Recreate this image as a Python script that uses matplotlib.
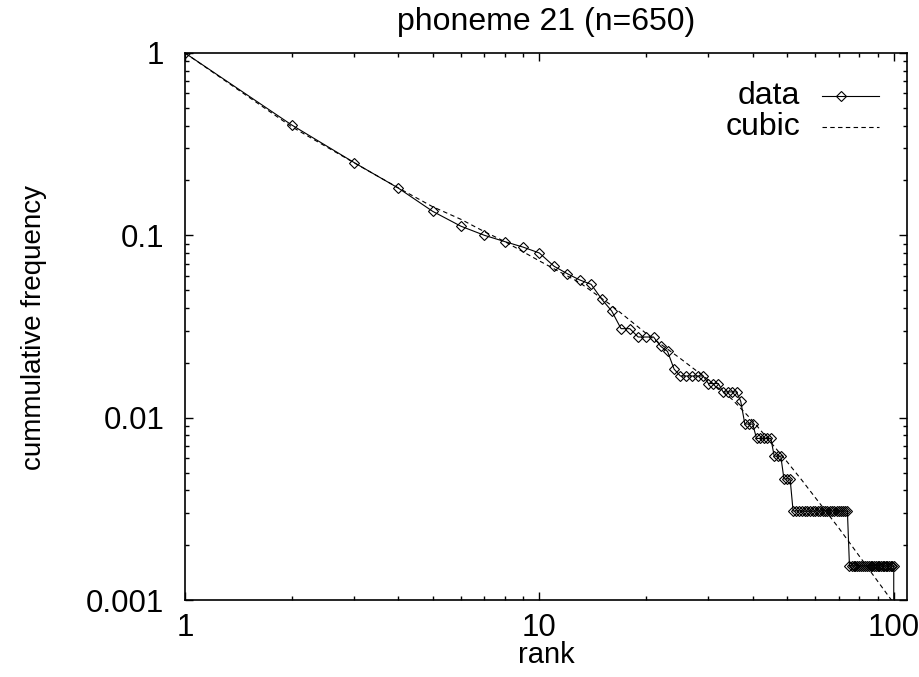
import numpy as np
import matplotlib

matplotlib.use("Agg")
import matplotlib.pyplot as plt
from matplotlib.ticker import NullFormatter, LogLocator

n_total = 650

# counts per rank (value = count / n)
rank = np.arange(1, 102)
counts = [
    650, 262, 163, 118, 88, 73, 65, 60, 56, 52,
    44, 40, 37, 35, 29, 25, 20, 20, 18, 18,
    18, 16, 15, 12, 11, 11, 11, 11, 11, 10,
    10, 10, 9, 9, 9, 9, 8, 6, 6, 6,
    5, 5, 5, 5, 5, 4, 4, 4, 3, 3,
    3, 2, 2, 2, 2, 2, 2, 2, 2, 2,
    2, 2, 2, 2, 2, 2, 2, 2, 2, 2,
    2, 2, 2, 2, 1, 1, 1, 1, 1, 1,
    1, 1, 1, 1, 1, 1, 1, 1, 1, 1,
    1, 1, 1, 1, 1, 1, 1, 1, 1, 1,
    0,
]
freq = np.array(counts) / n_total

# dashed "cubic" curve
cubic_rank = [1, 2, 3, 4, 5, 6, 7, 8, 10, 13, 16, 20, 25, 30, 35, 40, 50, 55, 70, 100]
cubic_freq = [1.0, 0.394, 0.250, 0.182, 0.1435, 0.1225, 0.1047, 0.0923, 0.0724, 0.0550,
              0.0412, 0.0290, 0.0211, 0.0161, 0.0126, 0.0096, 0.00573, 0.00455, 0.00248, 0.00096]

x_ticks = [1, 10, 100]
x_tick_labels = ["1", "10", "100"]
y_ticks = [0.001, 0.01, 0.1, 1]
y_tick_labels = ["0.001", "0.01", "0.1", "1"]

plt.rcParams["font.family"] = ["Liberation Sans", "DejaVu Sans"]

fig = plt.figure(figsize=(9.2, 6.77), dpi=100)
ax = fig.add_axes([185 / 920, 77 / 677, 722 / 920, 547 / 677])
ax.set_xscale("log")
ax.set_yscale("log", nonpositive="clip")

ax.plot(rank, freq, color="black", lw=0.8, marker="D", ms=4.7,
        mfc="none", mec="black", mew=0.8)
ax.plot(cubic_rank, cubic_freq, color="black", lw=0.8, ls=(0, (4, 3)))

ax.set_xlim(1, 109)
ax.set_ylim(0.001, 1)

ax.set_xticks(x_ticks, labels=x_tick_labels)
ax.set_yticks(y_ticks, labels=y_tick_labels)
ax.xaxis.set_minor_locator(LogLocator(base=10, subs=np.arange(2, 10)))
ax.yaxis.set_minor_locator(LogLocator(base=10, subs=np.arange(2, 10)))
ax.xaxis.set_minor_formatter(NullFormatter())
ax.yaxis.set_minor_formatter(NullFormatter())
ax.tick_params(which="both", direction="in", top=True, right=True,
               width=1.0, labelsize=22.5)
ax.tick_params(which="major", length=6)
ax.tick_params(which="minor", length=3)
ax.tick_params(axis="x", which="major", pad=9)
ax.tick_params(axis="y", which="major", pad=15)
for s in ax.spines.values():
    s.set_linewidth(1.2)

# legend, drawn by hand like gnuplot's key
ax.text(0.852, 0.921, "data", transform=ax.transAxes, ha="right", va="center", fontsize=23)
ax.text(0.852, 0.865, "cubic", transform=ax.transAxes, ha="right", va="center", fontsize=23)
ax.plot([0.882, 0.961], [0.921, 0.921], transform=ax.transAxes, color="black",
        lw=0.8, clip_on=False)
ax.plot([0.909], [0.921], transform=ax.transAxes, color="black", marker="D", ms=4.7,
        mfc="none", mew=0.8, clip_on=False)
ax.plot([0.882, 0.961], [0.865, 0.865], transform=ax.transAxes, color="black",
        lw=0.8, ls=(0, (4, 3)), clip_on=False)

fig.text(546 / 920, 1 - 22 / 677, "phoneme 21 (n=650)", ha="center", va="center", fontsize=23)
fig.text(546 / 920, 1 - 655 / 677, "rank", ha="center", va="center", fontsize=21)
fig.text(34 / 920, 1 - 327 / 677, "cummulative frequency", ha="center", va="center",
         rotation=90, fontsize=20)

fig.savefig("out.png", dpi=100)
